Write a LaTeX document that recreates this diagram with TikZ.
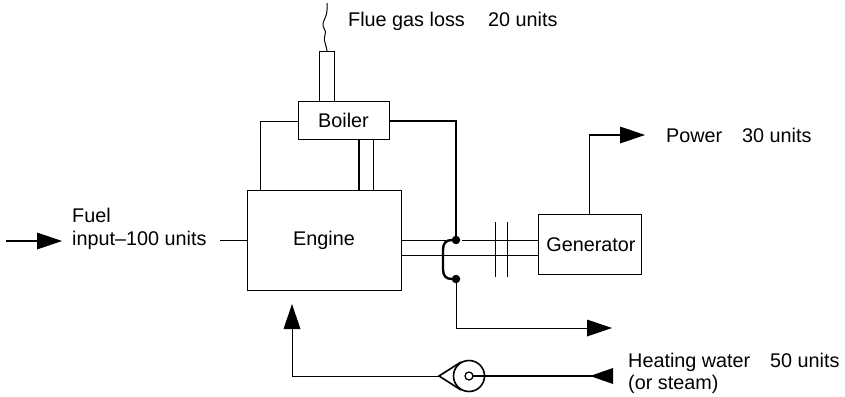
\documentclass[tikz,border=0pt]{standalone}
\usepackage{fontspec}
\setmainfont{Liberation Sans}
\tikzset{
  x=1pt,y=-1pt,
  box/.style={draw,line width=1.2pt,inner sep=0pt,anchor=north west},
  txt/.style={inner sep=0pt,font=\fontsize{19.8}{22}\selectfont},
  lab/.style={txt,anchor=base west},
  pipe/.style={draw,line width=1pt},
  heavy pipe/.style={draw,line width=1.5pt},
  headfill/.style={fill=black,draw=none},
  dotfill/.style={circle,fill=black,inner sep=0pt,minimum size=8.5pt}
}
\begin{document}
\begin{tikzpicture}
\useasboundingbox (0,0) rectangle (845,396);
% boxes
\node[box,minimum width=154pt,minimum height=100pt] (engine) at (247,190) {};
\node[txt] at (324,240.5) {Engine};
\node[box,minimum width=103pt,minimum height=60pt] (gen) at (538,214) {};
\node[txt] at (591,244.5) {Generator};
\node[box,minimum width=91pt,minimum height=38pt] (boiler) at (298,101) {};
\node[txt] at (343.5,120.5) {Boiler};
\node[box,minimum width=15pt,minimum height=50pt] (stack) at (319,51) {};
% coordinates
\coordinate (dotA) at (456,240);
\coordinate (dotB) at (456,279);
\node[dotfill] (da) at (dotA) {};
\node[dotfill] (db) at (dotB) {};
% flue
\draw[line width=1pt] (stack.north) .. controls (326,44) and (323,40) .. (325,35)
  .. controls (327,30) and (322,28) .. (323,23) .. controls (324,19) and (328,16) .. (327,3);
% boiler pipes
\draw[pipe] (boiler.west |- 0,121) -- (260,121) -- (260,190);
\draw[heavy pipe] (359,139) -- (359,190);
\draw[pipe] (373,139) -- (373,190);
\draw[heavy pipe] (389,121) -- (456,121) -- (da);
% shaft
\draw[pipe] (401,240) -- (446,240);
\draw[pipe] (462,240) -- (538,240);
\draw[pipe] (401,255) -- (538,255);
\draw[pipe] (495,222) -- (495,277);
\draw[pipe] (507,222) -- (507,277);
% brace
\draw[line width=2.4pt] (452,240) .. controls (446,240) and (443,243) .. (443,250)
  -- (443,269) .. controls (443,276) and (446,279) .. (452,279);
% outlet
\draw[pipe] (db) -- (456,328) -- (590,328);
\fill[headfill] (587,319.5) -- (612,328) -- (587,336.5) -- cycle;
% power
\draw[heavy pipe] (589.5,214) -- (589.5,135) -- (622,135);
\fill[headfill] (620,126.5) -- (645,135) -- (620,143.5) -- cycle;
% fuel
\draw[heavy pipe] (6,241) -- (40,241);
\fill[headfill] (37,232.5) -- (62,241) -- (37,249.5) -- cycle;
\draw[pipe] (220,240) -- (247,240);
% pump
\draw[line width=1.6pt] (469,376) circle (15.5);
\draw[line width=1.3pt] (469,376) circle (4);
\draw[line width=1.6pt,line join=miter] (461,362) -- (439,376) -- (461,390);
\draw[heavy pipe] (473,376) -- (595,376);
\fill[headfill] (613,368) -- (590,376) -- (613,384) -- cycle;
\draw[pipe] (439,376) -- (292,376) -- (292,327);
\fill[headfill] (283.5,329) -- (292,304) -- (300.5,329) -- cycle;
% labels
\node[lab] (t1) at (348,27) {Flue gas loss\hspace{.9em} 20 units};
\node[lab] (t2) at (666,142) {Power\hspace{.72em} 30 units};
\node[lab] (t3) at (72,222) {Fuel};
\node[lab] (t4) at (72,245) {input–100 units};
\node[lab] (t5) at (628,367) {Heating water\hspace{.72em} 50 units};
\node[lab] (t6) at (628,389) {(or steam)};
\end{tikzpicture}
\end{document}
